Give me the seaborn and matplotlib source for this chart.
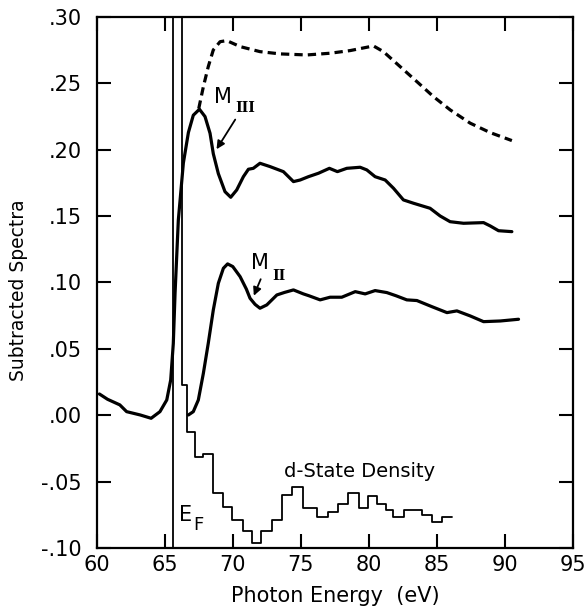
import matplotlib
matplotlib.use("Agg")
import matplotlib.pyplot as plt
import seaborn as sns
import pandas as pd
from matplotlib.ticker import FuncFormatter

# ---- data ----
m3_x = [60.2, 60.8, 61.7, 62.2, 63.2, 64.0, 64.65, 65.15, 65.44, 65.63, 65.76, 66.0, 66.37, 66.74,
        67.1, 67.55, 67.96, 68.33, 68.57, 68.94, 69.43, 69.85, 70.29, 70.78, 71.15, 71.51, 72.0,
        72.74, 73.72, 74.46, 74.95, 75.56, 76.3, 77.1, 77.69, 78.38, 79.36, 79.85, 80.46, 81.2,
        81.81, 82.54, 83.28, 84.5, 85.24, 85.97, 86.96, 88.43, 88.92, 89.53, 90.51]
m3_y = [0.016, 0.012, 0.0078, 0.0027, 0.0002, -0.0023, 0.0027, 0.0115, 0.0266, 0.054, 0.092,
        0.147, 0.190, 0.213, 0.226, 0.2305, 0.225, 0.2124, 0.197, 0.182, 0.1684, 0.1642, 0.1697,
        0.1797, 0.1853, 0.186, 0.1898, 0.1873, 0.1835, 0.176, 0.1772, 0.1797, 0.1823, 0.186,
        0.1835, 0.186, 0.1868, 0.1848, 0.1797, 0.1772, 0.171, 0.1622, 0.1597, 0.1559, 0.1501,
        0.1458, 0.1446, 0.1451, 0.1426, 0.139, 0.1383]

m2_x = [66.74, 67.1, 67.47, 67.84, 68.2, 68.57, 68.94, 69.31, 69.62, 70.0, 70.54, 71.0, 71.27,
        71.64, 72.0, 72.5, 73.24, 73.8, 74.46, 75.19, 75.6, 76.42, 77.15, 78.01, 79.0, 79.73,
        80.46, 81.32, 82.0, 82.79, 83.53, 84.63, 85.74, 86.47, 87.45, 88.43, 89.66, 91.0]
m2_y = [0.0002, 0.0027, 0.0115, 0.0316, 0.0542, 0.0793, 0.0994, 0.1107, 0.114, 0.112, 0.1044,
        0.0950, 0.0881, 0.0835, 0.0806, 0.0831, 0.0906, 0.0925, 0.0944, 0.0914, 0.0900, 0.0869,
        0.0889, 0.0889, 0.0931, 0.0914, 0.0939, 0.0924, 0.0900, 0.0869, 0.0864, 0.0818, 0.0773,
        0.0786, 0.0748, 0.0705, 0.071, 0.0723]

dash_x = [67.5, 67.84, 68.2, 68.57, 69.07, 69.56, 70.54, 72.0, 73.48, 75.44, 77.15, 78.63, 80.34,
          81.07, 82.3, 83.53, 84.75, 85.98, 87.45, 88.92, 90.51]
dash_y = [0.231, 0.2475, 0.2626, 0.2752, 0.2814, 0.2822, 0.2777, 0.2739, 0.2722, 0.2714, 0.2727,
          0.2747, 0.2782, 0.2739, 0.2626, 0.2513, 0.24, 0.23, 0.22, 0.2129, 0.2069]

dos_edges = [65.6, 66.3, 66.62, 67.23, 67.84, 68.57, 69.26, 69.93, 70.74, 71.40, 72.08, 72.87,
             73.60, 74.34, 75.15, 76.18, 76.99, 77.77, 78.50, 79.24, 79.97, 80.59, 81.27, 81.81,
             82.60, 83.90, 84.63, 85.37, 86.10]
dos_vals = [0.40, 0.0228, -0.0123, -0.0312, -0.0292, -0.0583, -0.0688, -0.0789, -0.0872, -0.0964,
            -0.0872, -0.0789, -0.0600, -0.0543, -0.0696, -0.0768, -0.0726, -0.0668, -0.0588,
            -0.0701, -0.0608, -0.0668, -0.0713, -0.0764, -0.0713, -0.0751, -0.0801, -0.0764]

fermi_energy = 65.6
x_ticks = [60, 65, 70, 75, 80, 85, 90, 95]
y_ticks = [-0.10, -0.05, 0.00, 0.05, 0.10, 0.15, 0.20, 0.25, 0.30]

# ---- plotting ----
sns.set_style("ticks")
plt.rcParams['font.family'] = ['DejaVu Sans']
for k in ["text.color", "axes.labelcolor", "xtick.color", "ytick.color", "axes.edgecolor"]:
    plt.rcParams[k] = "black"

fig = plt.figure(figsize=(5.87, 6.09), dpi=100)
ax = fig.add_axes([0.1647, 0.1002, 0.8114, 0.8719])

df3 = pd.DataFrame({"x": m3_x, "y": m3_y})
df2 = pd.DataFrame({"x": m2_x, "y": m2_y})
dfd = pd.DataFrame({"x": dash_x, "y": dash_y})
dfs = pd.DataFrame({"x": dos_edges, "y": dos_vals + [dos_vals[-1]]})

sns.lineplot(data=df3, x="x", y="y", ax=ax, color="black", lw=2.3, sort=False, estimator=None)
sns.lineplot(data=df2, x="x", y="y", ax=ax, color="black", lw=2.3, sort=False, estimator=None)
sns.lineplot(data=dfd, x="x", y="y", ax=ax, color="black", lw=2.3, sort=False, estimator=None)
ax.lines[-1].set_dashes((2.6, 1.6))
sns.lineplot(data=dfs, x="x", y="y", ax=ax, color="black", lw=1.3, sort=False, estimator=None,
             drawstyle="steps-post")
ax.axvline(fermi_energy, color="black", lw=1.3)

ax.set_xlim(60, 95)
ax.set_ylim(-0.10, 0.30)
ax.set_xticks(x_ticks)
ax.set_yticks(y_ticks)
ax.yaxis.set_major_formatter(FuncFormatter(lambda v, p: f"{v:.2f}".replace("0.", ".")))
ax.tick_params(axis="both", which="major", direction="in", length=10, width=1.5,
               top=True, right=True, labelsize=15, color="black", labelcolor="black")
ax.tick_params(axis="x", pad=5)
ax.tick_params(axis="y", pad=11)
for s in ax.spines.values():
    s.set_linewidth(1.6)
    s.set_color("black")

ax.set_xlabel("Photon Energy  (eV)", fontsize=15)
ax.set_ylabel("Subtracted Spectra", fontsize=13.5)
ax.xaxis.set_label_coords(0.5, -0.072)
ax.yaxis.set_label_coords(-0.145, 0.486)

# annotations
ax.text(69.31, 0.2394, "M", fontsize=15, ha="center", va="center")
ax.text(70.9, 0.2311, "III", fontsize=10, ha="center", va="center", family="DejaVu Serif",
        fontweight="bold")
ax.annotate("", xy=(68.70, 0.1986), xytext=(70.29, 0.2245),
            arrowprops=dict(arrowstyle="-|>", lw=1.3, color="black", mutation_scale=12))
ax.text(72.0, 0.1147, "M", fontsize=15, ha="center", va="center")
ax.text(73.42, 0.1051, "II", fontsize=10, ha="center", va="center", family="DejaVu Serif",
        fontweight="bold")
ax.annotate("", xy=(71.47, 0.0881), xytext=(72.13, 0.1044),
            arrowprops=dict(arrowstyle="-|>", lw=1.3, color="black", mutation_scale=12))
ax.text(66.53, -0.0751, "E", fontsize=15, ha="center", va="center")
ax.text(67.45, -0.083, "F", fontsize=13, ha="center", va="center")
ax.text(79.3, -0.0425, "d-State Density", fontsize=14, ha="center", va="center")

fig.savefig("out.png", dpi=100)
